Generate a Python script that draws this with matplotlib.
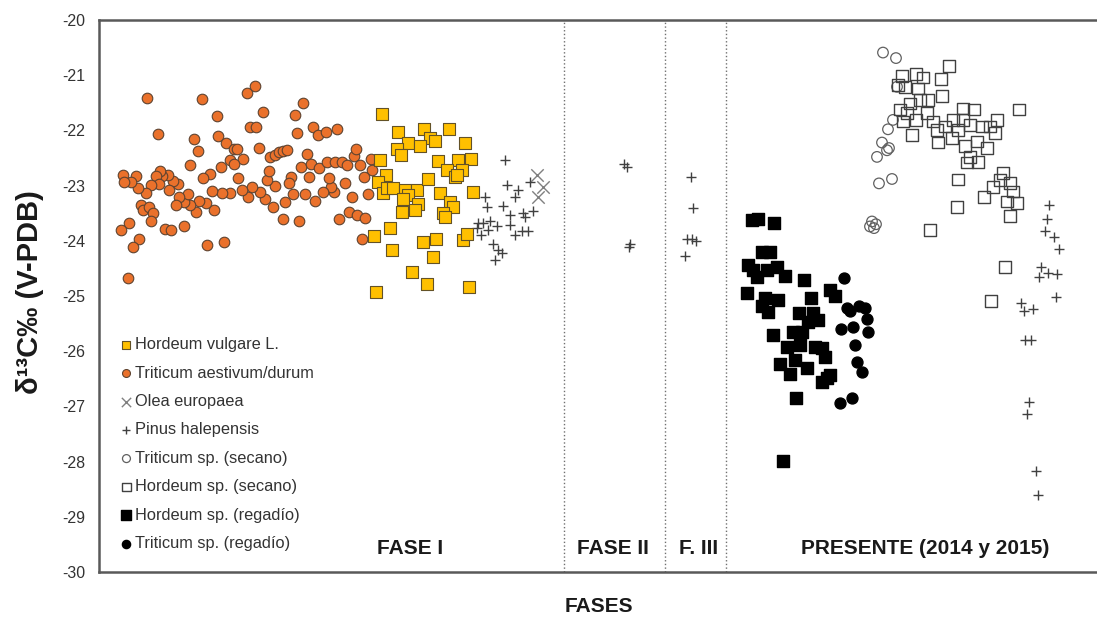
import matplotlib
matplotlib.use("Agg")
import matplotlib.pyplot as plt
import numpy as np

plt.rcParams['font.family'] = ['Liberation Sans', 'DejaVu Sans']
plt.rcParams['axes.unicode_minus'] = False

# x is only a position inside each phase (no scale on the chart)
# FASE I - Triticum aestivum/durum
trit_x = [4.8, 10.3, 14.8, 15.6, 16.4, 11.8, 5.9, 9.5, 9.9, 11.9, 12.7, 13.5, 13.8, 15.1, 15.7,
          16.0, 14.4, 13.1, 13.5, 12.2, 11.1, 10.4, 9.1, 19.6, 20.4, 19.8, 21.4, 21.9, 22.7, 23.8,
          20.8, 20.2, 21.2, 22.0, 22.8, 23.6, 24.3, 24.8, 25.5, 25.7, 26.1, 27.2, 27.3, 26.5, 26.9,
          25.3, 24.6, 23.5, 23.2, 23.0, 22.4, 21.6, 20.6, 19.4, 21.0, 19.2, 19.0, 18.6, 17.4, 16.6,
          16.1, 17.6, 16.8, 17.0, 17.1, 17.6, 18.0, 18.4, 18.8, 15.3, 14.9, 14.3, 13.9, 13.1, 12.3,
          11.3, 11.5, 10.7, 10.0, 9.7, 9.1, 8.5, 8.9, 8.0, 7.7, 7.9, 7.4, 6.9, 7.0, 6.3,
          6.1, 5.7, 6.0, 5.2, 4.7, 3.9, 3.7, 3.2, 2.4, 2.5, 4.2, 4.4, 5.0, 5.4, 5.2,
          3.0, 2.2, 4.0, 3.4, 6.6, 7.2, 8.5, 10.8, 12.5, 2.9, 18.4, 20.0, 24.0, 25.0, 25.8,
          26.6, 26.3]
trit_y = [-21.42, -21.43, -21.33, -21.20, -21.66, -21.74, -22.06, -22.16, -22.37, -22.10, -22.22, -22.34, -22.33, -21.93, -21.93,
          -22.31, -22.52, -22.54, -22.61, -22.67, -22.79, -22.87, -22.63, -21.72, -21.51, -22.05, -21.93, -22.09, -22.02, -21.97,
          -22.42, -22.67, -22.60, -22.69, -22.57, -22.57, -22.58, -22.63, -22.46, -22.34, -22.63, -22.51, -22.71, -22.84, -23.16,
          -23.20, -22.96, -23.11, -23.02, -22.87, -23.11, -23.27, -23.16, -23.16, -22.85, -22.85, -22.95, -23.29, -23.38, -23.25,
          -23.11, -23.00, -22.89, -22.73, -22.48, -22.45, -22.40, -22.37, -22.35, -23.03, -23.20, -23.08, -22.87, -23.14, -23.14,
          -23.09, -23.44, -23.32, -23.27, -23.48, -23.35, -23.29, -23.16, -23.20, -23.36, -22.97, -22.91, -22.81, -23.08, -22.83,
          -22.74, -22.83, -22.98, -22.99, -23.13, -23.05, -22.82, -22.94, -22.80, -22.93, -23.35, -23.44, -23.38, -23.50, -23.64,
          -23.67, -23.80, -23.97, -24.11, -23.79, -23.80, -23.73, -24.08, -24.03, -24.68, -23.61, -23.64, -23.60, -23.47, -23.53,
          -23.58, -23.96]

# FASE I - Hordeum vulgare L.
hord_x = [28.3, 29.9, 32.5, 35.0, 33.1, 33.6, 30.9, 29.8, 30.2, 32.1, 36.6, 28.1, 33.9, 35.9, 37.2,
          34.8, 36.3, 35.6, 35.8, 28.7, 27.9, 28.4, 28.8, 29.4, 30.6, 31.8, 32.9, 34.1, 30.9, 30.4,
          31.9, 31.6, 30.3, 35.1, 35.4, 34.4, 34.6, 37.4, 29.1, 27.5, 32.4, 33.7, 29.3, 33.4, 36.4,
          36.8, 31.3, 32.8, 27.7, 37.0]
hord_y = [-21.71, -22.02, -21.98, -21.97, -22.14, -22.19, -22.22, -22.34, -22.45, -22.29, -22.23, -22.54, -22.55, -22.54, -22.52,
          -22.72, -22.71, -22.84, -22.80, -22.80, -22.93, -23.14, -23.05, -23.05, -23.08, -23.08, -22.88, -23.13, -23.17, -23.25,
          -23.34, -23.44, -23.47, -23.29, -23.38, -23.49, -23.56, -23.12, -23.77, -23.92, -24.02, -23.97, -24.17, -24.29, -23.99,
          -23.88, -24.56, -24.78, -24.92, -24.83]

# Olea europaea
olea_x = [43.8, 44.4, 43.9]
olea_y = [-22.81, -23.02, -23.20]

# Pinus halepensis (Fase I, Fase II, F. III, Presente)
pinus_x = [40.6, 40.8, 43.1, 41.9, 41.6, 38.6, 38.8, 40.4, 41.1, 42.4, 42.6, 43.4, 37.9, 38.4, 39.1,
           39.8, 38.9, 38.2, 41.1, 41.6, 42.3, 42.9, 39.4, 39.9, 40.3, 39.6, 37.8,
           52.5, 52.8, 53.1, 53.0,
           59.2, 59.4, 58.8, 59.3, 59.7, 58.6,
           95.0, 94.8, 94.6, 95.5, 96.0, 94.2, 94.0, 94.9, 95.8, 95.7, 92.2, 92.5, 93.4, 92.6, 93.2,
           93.0, 92.8, 93.7, 93.9]
pinus_y = [-22.54, -22.99, -22.93, -23.08, -23.20, -23.20, -23.38, -23.37, -23.53, -23.50, -23.56, -23.46, -23.68, -23.67, -23.65,
           -23.73, -23.80, -23.89, -23.71, -23.89, -23.83, -23.83, -24.05, -24.17, -24.23, -24.35, -23.77,
           -22.61, -22.67, -24.05, -24.11,
           -22.84, -23.40, -23.97, -23.97, -24.00, -24.27,
           -23.35, -23.61, -23.82, -23.94, -24.15, -24.48, -24.66, -24.59, -24.60, -25.01, -25.13, -25.27, -25.24, -25.79, -25.80,
           -26.92, -27.13, -28.17, -28.61]

# PRESENTE - Triticum sp. (secano)
tsec_x = [78.4, 79.7, 79.8, 79.4, 78.9, 78.3, 79.0, 78.8, 77.8, 78.0, 79.3, 77.3, 77.5, 77.1, 77.7]
tsec_y = [-20.59, -20.69, -21.21, -21.81, -21.98, -22.22, -22.32, -22.36, -22.48, -22.96, -22.88, -23.65, -23.77, -23.74, -23.70]

# PRESENTE - Hordeum sp. (secano)
hsec_x = [85.0, 84.2, 80.3, 81.7, 82.4, 79.9, 80.6, 81.9, 84.3, 81.1, 82.1, 82.9, 80.1, 80.8, 81.7,
          82.8, 80.4, 81.3, 83.4, 83.8, 84.6, 85.4, 86.4, 87.5, 86.4, 87.1, 85.9, 85.3, 83.9, 86.6,
          87.8, 88.8, 88.3, 89.1, 89.8, 89.6, 87.1, 87.9, 86.8, 92.0, 85.9, 90.4, 90.1, 89.4, 91.1,
          88.5, 90.8, 91.4, 91.8, 91.1, 85.8, 83.1, 90.6, 89.2]
hsec_y = [-20.83, -21.07, -21.01, -20.98, -21.04, -21.18, -21.21, -21.24, -21.38, -21.51, -21.45, -21.45, -21.62, -21.69, -21.81,
          -21.69, -21.84, -22.08, -21.84, -21.99, -21.93, -21.81, -21.60, -21.62, -21.81, -21.90, -21.99, -22.14, -22.22, -22.28,
          -22.20, -22.32, -21.93, -21.93, -21.81, -22.05, -22.48, -22.57, -22.58, -21.62, -22.89, -22.77, -22.90, -23.02, -22.95,
          -23.21, -23.29, -23.11, -23.31, -23.55, -23.39, -23.80, -24.47, -25.09]

# PRESENTE - Hordeum sp. (regadío)
hreg_x = [65.3, 65.9, 67.5, 66.3, 67.1, 64.9, 65.4, 65.8, 66.8, 67.8, 68.6, 64.8, 66.6, 67.9, 66.3,
          66.9, 70.5, 71.2, 73.1, 73.6, 70.0, 71.4, 71.9, 70.9, 67.4, 69.4, 70.3, 68.8, 70.1, 71.6,
          72.3, 72.6, 68.1, 69.6, 69.1, 70.8, 72.3, 72.8, 73.1, 69.7, 68.4]
hreg_y = [-23.62, -23.61, -23.68, -24.20, -24.20, -24.44, -24.53, -24.65, -24.53, -24.47, -24.63, -24.94, -25.04, -25.08, -25.19,
          -25.29, -24.71, -25.04, -24.89, -25.00, -25.31, -25.31, -25.44, -25.47, -25.70, -25.65, -25.65, -25.92, -25.88, -25.92,
          -25.95, -26.10, -26.24, -26.16, -26.42, -26.31, -26.55, -26.49, -26.43, -26.85, -27.99]

# PRESENTE - Triticum sp. (regadío)
treg_x = [74.5, 74.8, 75.1, 76.0, 76.6, 76.8, 76.9, 74.2, 75.4, 75.6, 75.8, 76.3, 74.1, 75.3]
treg_y = [-24.67, -25.22, -25.28, -25.18, -25.21, -25.42, -25.66, -25.60, -25.56, -25.89, -26.20, -26.37, -26.93, -26.85]

phase_bounds = [46.5, 56.6, 62.7]
phase_labels = ['FASE I', 'FASE II', 'F. III', 'PRESENTE (2014 y 2015)']
phase_label_x = [31.1, 51.4, 60.0, 82.6]

fig = plt.figure(figsize=(10.97, 6.17), dpi=100)
ax = fig.add_axes([0.0902, 0.0729, 0.9098, 0.8947])

s1 = ax.scatter(trit_x, trit_y, s=58, marker='o', facecolor='#EA712B', edgecolor='#5e4330',
                linewidth=0.8, label='Triticum aestivum/durum', zorder=3)
s0 = ax.scatter(hord_x, hord_y, s=66, marker='s', facecolor='#FFC000', edgecolor='#635227',
                linewidth=0.8, label='Hordeum vulgare L.', zorder=4)
s2 = ax.scatter(olea_x, olea_y, s=80, marker='x', color='#808080', linewidth=1.0,
                label='Olea europaea', zorder=3)
s3 = ax.scatter(pinus_x, pinus_y, s=60, marker='+', color='#404040', linewidth=1.0,
                label='Pinus halepensis', zorder=3)
s4 = ax.scatter(tsec_x, tsec_y, s=58, marker='o', facecolor='none', edgecolor='#606060',
                linewidth=0.9, label='Triticum sp. (secano)', zorder=3)
s5 = ax.scatter(hsec_x, hsec_y, s=70, marker='s', facecolor='none', edgecolor='#404040',
                linewidth=1.0, label='Hordeum sp. (secano)', zorder=3)
s6 = ax.scatter(hreg_x, hreg_y, s=75, marker='s', color='black', label='Hordeum sp. (regadío)', zorder=3)
s7 = ax.scatter(treg_x, treg_y, s=62, marker='o', color='black', label='Triticum sp. (regadío)', zorder=3)

for xb in phase_bounds:
    ax.axvline(xb, color='#707070', linestyle=':', linewidth=1.0, zorder=1)

for lab, xl in zip(phase_labels, phase_label_x):
    ax.text(xl, -29.57, lab, ha='center', va='center', fontsize=15, fontweight='bold', color='#1a1a1a')

ax.set_xlim(0, 99.8)
ax.set_ylim(-30, -20)
ax.set_yticks(np.arange(-30, -19, 1))
ax.set_xticks([])
ax.tick_params(axis='y', length=0, pad=10, labelsize=11.5, labelcolor='#333333')
for side in ['left', 'bottom', 'top']:
    ax.spines[side].set_color('#595959')
    ax.spines[side].set_linewidth(1.8)
ax.spines['right'].set_visible(False)

leg = ax.legend(handles=[s0, s1, s2, s3, s4, s5, s6, s7], loc='upper left',
                bbox_to_anchor=(0.021, 0.4255), frameon=False, fontsize=11.8,
                markerscale=0.75, handlelength=0.8, handletextpad=0.15,
                labelspacing=0.82, borderaxespad=0, borderpad=0)
for t in leg.get_texts():
    t.set_color('#333333')

fig.text(30 / 1097, 1 - 292 / 617, 'δ¹³C‰ (V-PDB)', rotation=90, ha='center', va='center',
         fontsize=21, fontweight='bold', color='#1a1a1a')
fig.text(599 / 1097, 1 - 606 / 617, 'FASES', ha='center', va='center',
         fontsize=15, fontweight='bold', color='#1a1a1a')

fig.savefig('out.png', dpi=100, facecolor='white')
